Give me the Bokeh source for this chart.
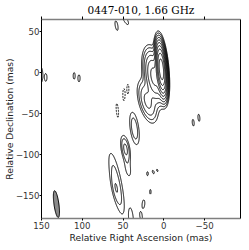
import numpy as np
from bokeh.plotting import figure
from bokeh.models import LinearAxis, FixedTicker, Range1d, CustomJSTickFormatter
from bokeh.embed import file_html
from bokeh.resources import INLINE

title_text = "0447-010, 1.66 GHz"
x_label = "Relative Right Ascension (mas)"
y_label = "Relative Declination (mas)"
x_ticks = [150, 100, 50, 0, -50]
y_ticks = [50, 0, -50, -100, -150]

# Gaussian source components: RA/Dec offsets (mas),
# peak (fraction of core peak), FWHM major/minor (mas), position angle (deg E of N)
comp_ra = [3, 12, 20, 36, 47, 44, 58, 59, 40, 25, 28,
           150.5, 144.5, 110, 104, 58, 47, -36, -43, 20, 13, 8, 16.5]
comp_dec = [4, -5, -35, -68, -93, -117, -135, -142, -178, -160, -175,
            -3, -6, -4, -7, 57, 64, -61, -55, -123, -121, -119, -145]
comp_peak = [1.0, 0.05, 0.012, 0.004, 0.006, 0.0018, 0.0035, 0.002, 0.002, 0.0016, 0.0016,
             0.0016, 0.0015, 0.0015, 0.0015, 0.0016, 0.0017, 0.0015, 0.0015, 0.0014, 0.0014, 0.0013, 0.0014]
comp_maj = [30, 34, 30, 30, 22, 22, 60, 25, 30, 16, 14,
            28, 14, 14, 15, 18, 18, 14, 15, 10, 9, 8, 12]
comp_min = [6, 12, 12, 8, 7, 7, 10, 6, 6, 5, 4,
            6, 4, 4, 4.5, 5, 6, 4, 4, 4, 4, 4, 3.5]
comp_pa = [5, 10, 15, 8, 10, 10, 11, 12, 5, -5, 10,
           0, 0, 0, 0, 10, 30, 5, 5, 0, 20, 20, 0]

# negative (dashed) features
neg_ra = [49, 44, 57]
neg_dec = [-27, -20, -46]
neg_peak = [0.0016, 0.0015, 0.0016]
neg_maj = [22, 20, 26]
neg_min = [4, 4, 4]
neg_pa = [0, 0, 5]

lowest_level = 0.0012
n_levels = 10

beam_ra, beam_dec = 131.7, -160.0
beam_maj, beam_min, beam_pa = 33.0, 6.0, 8.0

x_lo, x_hi = -94.0, 150.0
y_lo, y_hi = -177.5, 64.5


def model(gx, gy, ra, dec, peak, maj, mn, pa):
    z = np.zeros_like(gx)
    for x0, y0, a, M, m, t in zip(ra, dec, peak, maj, mn, pa):
        th = np.radians(t)
        dx, dy = gx - x0, gy - y0
        u = dx * np.sin(th) + dy * np.cos(th)
        v = dx * np.cos(th) - dy * np.sin(th)
        z += a * np.exp(-4 * np.log(2) * ((u / M) ** 2 + (v / m) ** 2))
    return z


xs = np.arange(x_lo - 2, x_hi + 2, 0.5)
ys = np.arange(y_lo - 2, y_hi + 2, 0.5)
GX, GY = np.meshgrid(xs, ys)
z = model(GX, GY, comp_ra, comp_dec, comp_peak, comp_maj, comp_min, comp_pa) \
    - model(GX, GY, neg_ra, neg_dec, neg_peak, neg_maj, neg_min, neg_pa)

levels = [lowest_level * 2 ** k for k in range(n_levels)]

p = figure(frame_width=199, frame_height=199, x_range=Range1d(x_hi, x_lo), y_range=Range1d(y_lo, y_hi),
           output_backend="svg", toolbar_location=None, title_location=None,
           min_border_left=0, min_border_right=0, min_border_top=0, min_border_bottom=0)
p.grid.visible = False
p.outline_line_color = None
p.background_fill_color = "white"

p.contour(xs, ys, z, levels, line_color="black", line_width=1)
p.contour(xs, ys, -z, [lowest_level, 2 * lowest_level], line_color="black", line_width=1,
          line_dash="2 1")

t = np.linspace(0, 2 * np.pi, 80)
th = np.radians(beam_pa)
a_, b_ = beam_maj / 2, beam_min / 2
bu, bv = a_ * np.cos(t), b_ * np.sin(t)
bx = beam_ra + bu * np.sin(th) + bv * np.cos(th)
by = beam_dec + bu * np.cos(th) - bv * np.sin(th)
p.patch(bx, by, fill_color="#8a8a8a", line_color="black", line_width=1)

font = "DejaVu Sans"
xa = p.xaxis[0]
xa.ticker = FixedTicker(ticks=x_ticks)
xa.axis_label = x_label
ya = p.yaxis[0]
ya.ticker = FixedTicker(ticks=y_ticks)
ya.axis_label = y_label

blank = CustomJSTickFormatter(code="return ''")
top = LinearAxis(ticker=FixedTicker(ticks=x_ticks), axis_label=title_text, formatter=blank)
right = LinearAxis(ticker=FixedTicker(ticks=y_ticks), formatter=blank)
p.add_layout(top, "above")
p.add_layout(right, "right")

for ax in (xa, ya, top, right):
    ax.minor_tick_line_color = None
    ax.major_tick_in = 0
    ax.major_label_text_font = font
    ax.major_label_text_font_size = "8.6px"
    ax.major_label_text_color = "#333333"
    ax.axis_label_text_font = font
    ax.axis_label_text_font_size = "9.2px"
    ax.axis_label_text_font_style = "normal"
    ax.axis_label_text_color = "#222222"
    ax.major_label_standoff = 1
    ax.axis_label_standoff = 0

xa.axis_line_color = "#7f7f7f"
xa.axis_line_width = 1.5
xa.major_tick_out = 2
xa.major_label_standoff = 1
xa.axis_label_standoff = 0
top.axis_line_color = "#7f7f7f"
top.axis_line_width = 1.5
top.major_tick_out = 3
top.major_label_standoff = 0
top.axis_label_standoff = 1
top.axis_label_text_font = "DejaVu Serif"
top.axis_label_text_font_size = "10.5px"
top.axis_label_text_color = "black"
ya.axis_line_color = "black"
ya.major_tick_out = 2
ya.major_label_standoff = 0
ya.axis_label_standoff = -2
right.axis_line_color = "black"
right.major_tick_out = 1
right.major_label_standoff = 0

open("out.html", "w").write(file_html(p, INLINE))
